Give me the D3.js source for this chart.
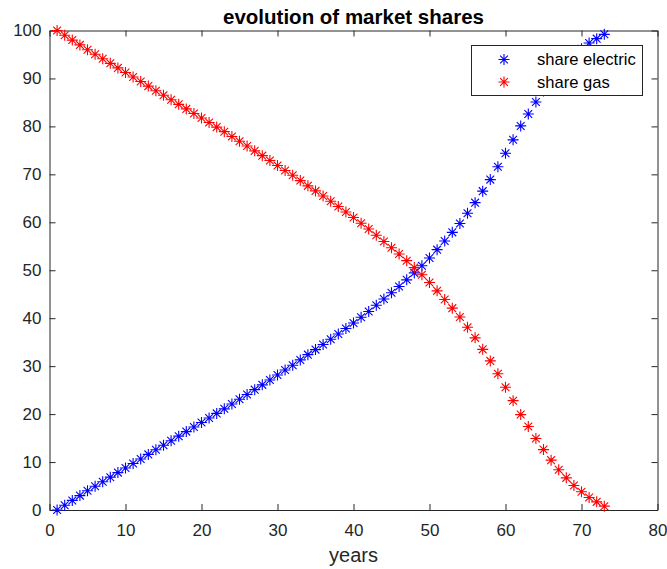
<!DOCTYPE html>
<html>
<head>
<meta charset="utf-8">
<script src="https://cdn.jsdelivr.net/npm/d3@7"></script>
<style>
  html, body { margin: 0; padding: 0; background: #fff; }
  svg { display: block; font-family: "Liberation Sans", Arial, Helvetica, sans-serif; }
</style>
</head>
<body>
<svg id="chart" width="667" height="569"></svg>
<script>
// Years on the horizontal axis
const years = d3.range(1, 74);

// Market share of electric (percent), year 1..73
const shareElectric = [
  0, 1.0, 2.0, 3.0, 4.0, 4.95, 5.9, 6.85, 7.8, 8.75,
  9.7, 10.65, 11.6, 12.55, 13.5, 14.45, 15.4, 16.35, 17.3, 18.25,
  19.2, 20.15, 21.1, 22.1, 23.1, 24.1, 25.1, 26.1, 27.1, 28.15,
  29.2, 30.2, 31.3, 32.4, 33.45, 34.5, 35.6, 36.7, 37.85, 39.0,
  40.2, 41.4, 42.7, 44.0, 45.3, 46.6, 48.0, 49.45, 50.95, 52.55,
  54.3, 56.1, 57.9, 59.75, 61.9, 64.1, 66.5, 68.9, 71.6, 74.4,
  77.2, 80.1, 82.6, 85.1, 87.4, 89.6, 91.6, 93.3, 94.9, 96.2,
  97.4, 98.3, 99.2
];

// Market share of gas (percent), year 1..73
const shareGas = [
  100, 99.0, 98.0, 97.0, 96.0, 95.05, 94.1, 93.15, 92.2, 91.25,
  90.3, 89.35, 88.4, 87.45, 86.5, 85.55, 84.6, 83.65, 82.7, 81.75,
  80.8, 79.85, 78.9, 77.9, 76.9, 75.9, 74.9, 73.9, 72.9, 71.85,
  70.8, 69.8, 68.7, 67.6, 66.55, 65.5, 64.4, 63.3, 62.15, 61.0,
  59.8, 58.6, 57.3, 56.0, 54.7, 53.4, 52.0, 50.55, 49.05, 47.45,
  45.7, 43.9, 42.1, 40.25, 38.1, 35.9, 33.5, 31.1, 28.4, 25.6,
  22.8, 19.9, 17.4, 14.9, 12.6, 10.4, 8.4, 6.7, 5.1, 3.8,
  2.6, 1.7, 0.8
];

const xTicks = [0, 10, 20, 30, 40, 50, 60, 70, 80];
const yTicks = [0, 10, 20, 30, 40, 50, 60, 70, 80, 90, 100];

const seriesNames = ["share electric", "share gas"];
const seriesColors = ["#0000ff", "#ff0000"];

const svg = d3.select("#chart");
const plotLeft = 49.5, plotRight = 657.5, plotTop = 30.5, plotBottom = 510;

const x = d3.scaleLinear().domain([0, 80]).range([plotLeft, plotRight]);
const y = d3.scaleLinear().domain([0, 100]).range([plotBottom, plotTop]);

const axisColor = "#262626";
const fontSize = 17;
const tickLen = 6;

// Axes with inward ticks (bottom + left with labels, top + right mirrored)
const gx = svg.append("g").attr("transform", `translate(0,${plotBottom})`)
  .call(d3.axisBottom(x).tickValues(xTicks).tickSizeInner(-tickLen).tickSizeOuter(0).tickPadding(14));
const gy = svg.append("g").attr("transform", `translate(${plotLeft},0)`)
  .call(d3.axisLeft(y).tickValues(yTicks).tickSizeInner(-tickLen).tickSizeOuter(0).tickPadding(8));
const gxt = svg.append("g").attr("transform", `translate(0,${plotTop})`)
  .call(d3.axisTop(x).tickValues(xTicks).tickSizeInner(-tickLen).tickSizeOuter(0).tickFormat(""));
const gyr = svg.append("g").attr("transform", `translate(${plotRight},0)`)
  .call(d3.axisRight(y).tickValues(yTicks).tickSizeInner(-tickLen).tickSizeOuter(0).tickFormat(""));

[gx, gy, gxt, gyr].forEach(g => {
  g.select(".domain").attr("stroke", axisColor).attr("stroke-width", 1);
  g.selectAll(".tick line").attr("stroke", axisColor).attr("stroke-width", 1);
  g.selectAll(".tick text").attr("fill", axisColor)
    .style("font-size", fontSize + "px")
    .style("font-family", '"Liberation Sans", Arial, sans-serif');
});
gx.selectAll(".tick text").attr("dy", "0.71em");

// Title and axis label
svg.append("text")
  .attr("x", (plotLeft + plotRight) / 2).attr("y", 24)
  .attr("text-anchor", "middle")
  .style("font-size", "20.5px").style("font-weight", "bold").attr("fill", "#000")
  .text("evolution of market shares");

svg.append("text")
  .attr("x", (plotLeft + plotRight) / 2).attr("y", 562)
  .attr("text-anchor", "middle")
  .style("font-size", "20px").attr("fill", axisColor)
  .text("years");

// Asterisk marker path: plus and cross overlaid
function asterisk(r) {
  const d = r / Math.SQRT2;
  return `M${-r},0L${r},0M0,${-r}L0,${r}M${-d},${-d}L${d},${d}M${-d},${d}L${d},${-d}`;
}
const markerPath = asterisk(5.5);

const plot = svg.append("g");
const seriesData = [shareElectric, shareGas];
seriesData.forEach((vals, i) => {
  plot.append("g").selectAll("path")
    .data(years.map((yr, j) => ({ yr, v: vals[j] })))
    .join("path")
    .attr("transform", d => `translate(${x(d.yr)},${y(d.v)})`)
    .attr("d", markerPath)
    .attr("fill", "none")
    .attr("stroke", seriesColors[i])
    .attr("stroke-width", 1.1);
});

// Legend
const lg = svg.append("g");
lg.append("rect")
  .attr("x", 471.5).attr("y", 45.5).attr("width", 171).attr("height", 50)
  .attr("fill", "#fff").attr("stroke", axisColor).attr("stroke-width", 1);
seriesNames.forEach((name, i) => {
  const cy = 59.5 + i * 22.5;
  lg.append("path")
    .attr("transform", `translate(504,${cy})`)
    .attr("d", markerPath)
    .attr("fill", "none").attr("stroke", seriesColors[i]).attr("stroke-width", 1.1);
  lg.append("text")
    .attr("x", 537).attr("y", cy).attr("dy", "0.35em")
    .style("font-size", "16.6px").attr("fill", "#000")
    .text(name);
});
</script>
</body>
</html>
